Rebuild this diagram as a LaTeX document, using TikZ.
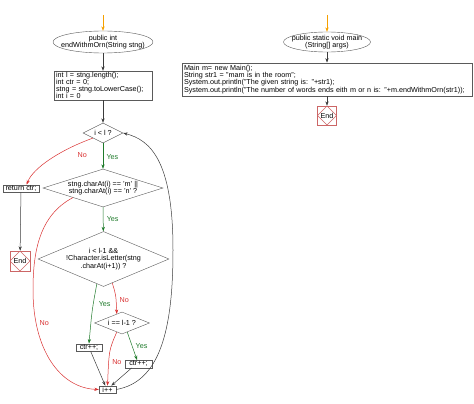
\documentclass[tikz,border=0pt]{standalone}
\usepackage{fontspec}
\setmainfont{Liberation Sans}
\usetikzlibrary{arrows.meta,positioning,calc,shapes.geometric}
\definecolor{Edge}{HTML}{3C3C3C}
\definecolor{Frame}{HTML}{5A5A5A}
\definecolor{YesGreen}{HTML}{1E7A2A}
\definecolor{NoRed}{HTML}{D93030}
\definecolor{Start}{HTML}{F5A000}
\definecolor{EndRed}{HTML}{CC6666}

\begin{document}
\begin{tikzpicture}[x=1pt,y=-1pt,font=\fontsize{7.2}{7.2}\selectfont,
    box/.style={draw=Frame,fill=white,inner xsep=2pt,inner ysep=1pt,align=left},
    oval/.style={draw=Frame,ellipse,inner xsep=-8pt,inner ysep=0pt,align=center},
    cond/.style={draw=Frame,diamond,inner sep=0pt,align=center},
    endbox/.style={draw=EndRed,minimum size=20pt,inner sep=0pt,
      path picture={\draw[EndRed] (path picture bounding box.north) -- (path picture bounding box.east)
        -- (path picture bounding box.south) -- (path picture bounding box.west) -- cycle;}},
    flow/.style={-{Stealth[length=4.5pt,width=3.2pt]},Edge,line width=0.5pt},
    yes/.style={flow,color=YesGreen},
    no/.style={flow,color=NoRed}]
  \useasboundingbox (0,0) rectangle (474,404);

  % endWithmOrn
  \coordinate (s1) at (103,15);
  \node[oval,minimum width=100pt,minimum height=22pt] (fn) at (103,42) {public int\\endWithmOrn(String stng)};
  \node[box,text width=94pt] (init) at (103,85.5) {int l = stng.length();\\int ctr = 0;\\stng = stng.toLowerCase();\\int i = 0};
  \node[cond,shape aspect=2,minimum width=40pt,minimum height=20pt] (d1) at (103,133) {i < l ?};
  \node[cond,shape aspect=3.2,minimum width=120pt,minimum height=38pt] (d2) at (103,188) {stng.charAt(i) == 'm' ||\\stng.charAt(i) == 'n' ?};
  \node[cond,shape aspect=2.4,minimum width=131pt,minimum height=55pt] (d3) at (103.5,259) {i < l-1 \&\&\\!Character.isLetter(stng\\.charAt(i+1)) ?};
  \node[cond,shape aspect=2.5,minimum width=55pt,minimum height=22pt] (d4) at (122,323) {i == l-1 ?};
  \node[box,minimum width=36pt] (ret) at (21,188.5) {return ctr;};
  \node[endbox] (end1) at (20,261) {End};
  \node[box,minimum width=26pt] (c1) at (89,347.5) {ctr++;};
  \node[box,minimum width=27pt] (c2) at (138.5,364) {ctr++;};
  \node[box,minimum width=17pt] (ipp) at (107.5,389.5) {i++};

  \draw[flow,color=Start] (s1) -- (fn);
  \draw[flow] (fn) -- (init);
  \draw[flow] (init) -- (d1);
  \draw[yes] (d1) -- node[right,pos=0.55] {Yes} (d2);
  \draw[no] (d1.south west) .. controls (60,150) and (33,168) .. (ret.35) node[pos=0.2,below right=3pt and 0pt] {No};
  \draw[flow] (ret) -- (end1);
  \draw[yes] (d2) -- node[right,pos=0.5] {Yes} (d3);
  \draw[no] (d2.south west) .. controls (40,215) and (33,250) .. (33,290)
    .. controls (33,350) and (60,388) .. (ipp.west) node[pos=0.2,right] {No};
  \draw[yes] (d3.-105) .. controls (92,310) .. (c1.north) node[pos=0.35,right=2pt] {Yes};
  \draw[no] (d3.-70) .. controls (116,295) .. (d4.120) node[pos=0.65,right] {No};
  \draw[yes] (d4.-60) -- node[pos=0.5,right] {Yes} (c2.110);
  \draw[no] (d4.-120) .. controls (109,350) .. (ipp.north) node[pos=0.7,right] {No};
  \draw[flow] (c1) -- (ipp.120);
  \draw[flow] (c2.-150) -- (ipp.45);
  \draw[flow] (ipp.east) .. controls (160,382) and (173,330) .. (173,250)
    .. controls (173,160) and (150,140) .. (d1.east);

  % main
  \coordinate (s2) at (327,15);
  \node[oval,minimum width=87pt,minimum height=20pt] (mn) at (327,42) {public static void main\\(String[] args)};
  \node[box,text width=286pt,inner ysep=2.5pt] (body) at (327,79.5) {Main m= new Main();\\String str1 = "mam is in the room";\\System.out.println("The given string is: "+str1);\\System.out.println("The number of words ends eith m or n is: "+m.endWithmOrn(str1));};
  \node[endbox,minimum size=19pt] (end2) at (327,115.5) {End};

  \draw[flow,color=Start] (s2) -- (mn);
  \draw[flow] (mn) -- (body);
  \draw[flow] (body) -- (end2);
\end{tikzpicture}
\end{document}
